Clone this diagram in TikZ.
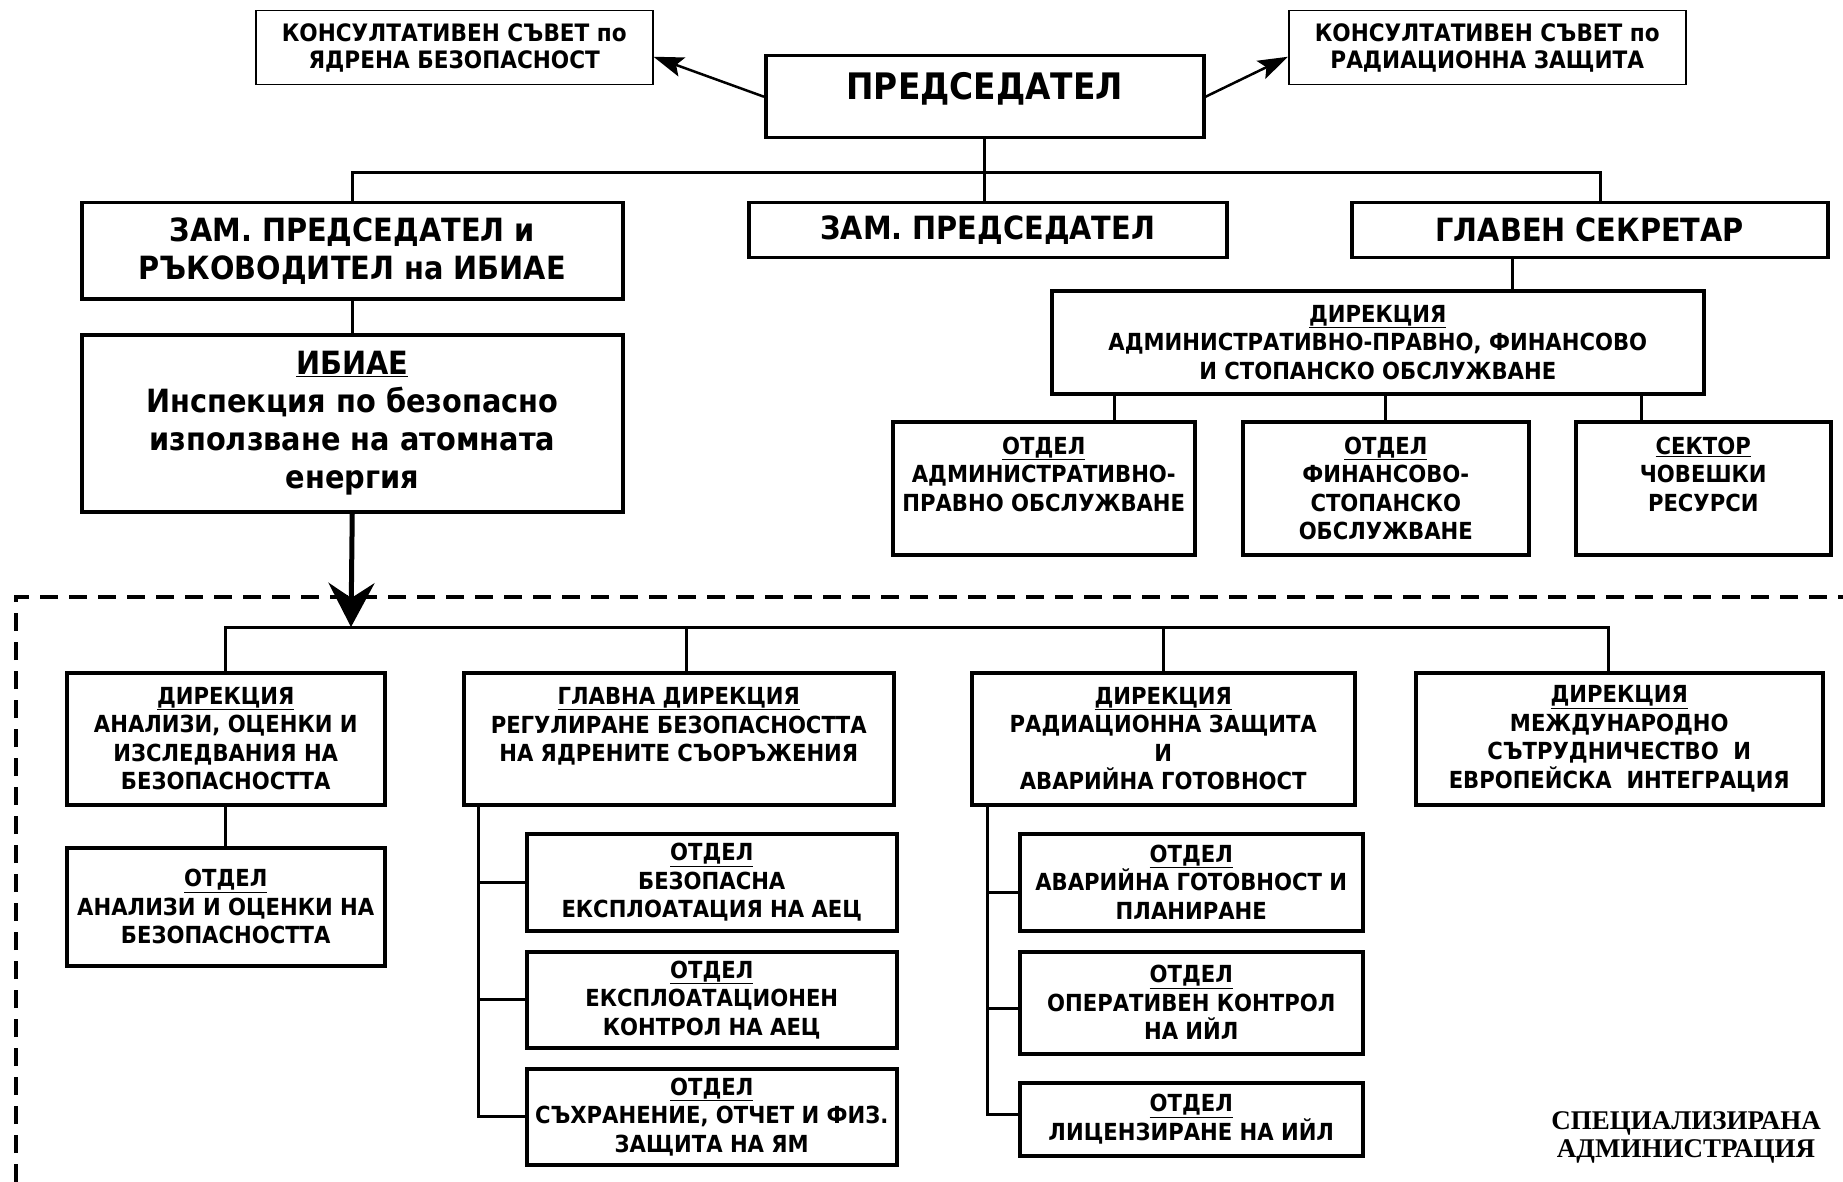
\documentclass[tikz,border=0pt]{standalone}
\usepackage{fontspec}
\setmainfont{DejaVu Sans}[FakeStretch = 0.9]
\newfontfamily\specfont{Liberation Serif}
\usetikzlibrary{arrows.meta}
\tikzset{
    box/.style = {
        draw,
        line width = 3.5pt,
        inner sep = 0pt,
        align = center,
        anchor = north west
    },
    thinbox/.style = {box, line width = 1.5pt},
    conn/.style = {line width = 3pt},
    pointer/.style = {
        line width = 2.5pt,
        -{Stealth[length = 30pt, width = 20pt, inset = 6pt]}
    },
    bigpointer/.style = {
        line width = 5pt,
        -{Stealth[length = 44pt, width = 46pt, inset = 15pt]}
    },
    frame/.style = {line width = 3.5pt, dash pattern = on 18pt off 11pt},
    kctext/.style = {font = \fontsize{24}{27}\selectfont\bfseries},
    titletext/.style = {font = \fontsize{36.5}{40}\selectfont\bfseries},
    bigtext/.style = {font = \fontsize{32}{38}\selectfont\bfseries},
    unittext/.style = {font = \fontsize{23.5}{28.5}\selectfont\bfseries}
}

\begin{document}
\begin{tikzpicture}[x = 1pt, y = -1pt]
    \useasboundingbox (0, 0) rectangle (1843, 1182);

    % Chairman and councils
    \node
        [box, titletext, text depth = 22pt, minimum width = 438pt, minimum height = 82pt]
        (pred) at (764, 54)
        {ПРЕДСЕДАТЕЛ}
    ;
    \node
        [thinbox, kctext, minimum width = 397pt, minimum height = 74pt]
        (ksyb) at (255, 10)
        {КОНСУЛТАТИВЕН СЪВЕТ по\\ЯДРЕНА БЕЗОПАСНОСТ}
    ;
    \node
        [thinbox, kctext, minimum width = 397pt, minimum height = 74pt]
        (ksrz) at (1288, 10)
        {КОНСУЛТАТИВЕН СЪВЕТ по\\РАДИАЦИОННА ЗАЩИТА}
    ;

    % Deputies and secretary
    \node
        [box, bigtext, minimum width = 541pt, minimum height = 96pt]
        (zam1) at (80, 201)
        {ЗАМ. ПРЕДСЕДАТЕЛ и\\РЪКОВОДИТЕЛ на ИБИАЕ}
    ;
    \node
        [box, bigtext, minimum width = 478pt, minimum height = 55pt]
        (zam2) at (747, 201)
        {ЗАМ. ПРЕДСЕДАТЕЛ}
    ;
    \node
        [box, bigtext, minimum width = 476pt, minimum height = 55pt]
        (sec) at (1350, 201)
        {ГЛАВЕН СЕКРЕТАР}
    ;
    \node
        [box, bigtext, minimum width = 541pt, minimum height = 177pt]
        (ibiae) at (80, 333)
        {\underline{ИБИАЕ}\\Инспекция по безопасно\\използване на атомната\\енергия}
    ;

    % General administration
    \node
        [box, unittext, minimum width = 652pt, minimum height = 103pt]
        (dir) at (1050, 289)
        {\underline{ДИРЕКЦИЯ}\\АДМИНИСТРАТИВНО-ПРАВНО, ФИНАНСОВО\\И СТОПАНСКО ОБСЛУЖВАНЕ}
    ;
    \node
        [box, unittext, minimum width = 302pt, minimum height = 133pt]
        (o1) at (891, 420)
        {\underline{ОТДЕЛ}\\АДМИНИСТРАТИВНО-\\ПРАВНО ОБСЛУЖВАНЕ\\ \mbox{}}
    ;
    \node
        [box, unittext, minimum width = 286pt, minimum height = 133pt]
        (o2) at (1241, 420)
        {\underline{ОТДЕЛ}\\ФИНАНСОВО-\\СТОПАНСКО\\ОБСЛУЖВАНЕ}
    ;
    \node
        [box, unittext, minimum width = 255pt, minimum height = 133pt]
        (s3) at (1574, 420)
        {\underline{СЕКТОР}\\ЧОВЕШКИ\\РЕСУРСИ\\ \mbox{}}
    ;

    % Specialised administration
    \node
        [box, unittext, minimum width = 318pt, minimum height = 132pt]
        (d1) at (65, 671)
        {\underline{ДИРЕКЦИЯ}\\АНАЛИЗИ, ОЦЕНКИ И\\ИЗСЛЕДВАНИЯ НА\\БЕЗОПАСНОСТТА}
    ;
    \node
        [box, unittext, minimum width = 318pt, minimum height = 118pt]
        (o11) at (65, 846)
        {\underline{ОТДЕЛ}\\АНАЛИЗИ И ОЦЕНКИ НА\\БЕЗОПАСНОСТТА}
    ;
    \node
        [box, unittext, minimum width = 430pt, minimum height = 132pt]
        (gd) at (462, 671)
        {\underline{ГЛАВНА ДИРЕКЦИЯ}\\РЕГУЛИРАНЕ БЕЗОПАСНОСТТА\\НА ЯДРЕНИТЕ СЪОРЪЖЕНИЯ\\ \mbox{}}
    ;
    \node
        [box, unittext, minimum width = 370pt, minimum height = 97pt]
        (g1) at (525, 832)
        {\underline{ОТДЕЛ}\\БЕЗОПАСНА\\ЕКСПЛОАТАЦИЯ НА АЕЦ}
    ;
    \node
        [box, unittext, minimum width = 370pt, minimum height = 96pt]
        (g2) at (525, 950)
        {\underline{ОТДЕЛ}\\ЕКСПЛОАТАЦИОНЕН\\КОНТРОЛ НА АЕЦ}
    ;
    \node
        [box, unittext, minimum width = 370pt, minimum height = 96pt]
        (g3) at (525, 1067)
        {\underline{ОТДЕЛ}\\СЪХРАНЕНИЕ, ОТЧЕТ И ФИЗ.\\ЗАЩИТА НА ЯМ}
    ;
    \node
        [box, unittext, minimum width = 383pt, minimum height = 132pt]
        (d3) at (970, 671)
        {\underline{ДИРЕКЦИЯ}\\РАДИАЦИОННА ЗАЩИТА\\И\\АВАРИЙНА ГОТОВНОСТ}
    ;
    \node
        [box, unittext, minimum width = 343pt, minimum height = 97pt]
        (r1) at (1018, 832)
        {\underline{ОТДЕЛ}\\АВАРИЙНА ГОТОВНОСТ И\\ПЛАНИРАНЕ}
    ;
    \node
        [box, unittext, minimum width = 343pt, minimum height = 102pt]
        (r2) at (1018, 950)
        {\underline{ОТДЕЛ}\\ОПЕРАТИВЕН КОНТРОЛ\\НА ИЙЛ}
    ;
    \node
        [box, unittext, minimum width = 343pt, minimum height = 73pt]
        (r3) at (1018, 1081)
        {\underline{ОТДЕЛ}\\ЛИЦЕНЗИРАНЕ НА ИЙЛ}
    ;
    \node
        [box, unittext, minimum width = 407pt, minimum height = 132pt]
        (d4) at (1414, 671)
        {\underline{ДИРЕКЦИЯ}\\МЕЖДУНАРОДНО\\СЪТРУДНИЧЕСТВО~ И\\ЕВРОПЕЙСКА~ ИНТЕГРАЦИЯ}
    ;
    \node
        [align = center, font = \specfont\fontsize{27}{28}\selectfont\bfseries]
        (spec) at (1686, 1137)
        {СПЕЦИАЛИЗИРАНА\\АДМИНИСТРАЦИЯ}
    ;

    % Frame
    \draw
        [frame]
        (16, 1182) |- (1843, 597)
    ;

    % Lines
    \draw [pointer] (pred.west) -- ([yshift = -9pt]ksyb.east);
    \draw [pointer] (pred.east) -- ([yshift = -9pt]ksrz.west);
    \draw [conn] (pred.south) -- (pred.south |- zam2.north);
    \draw
        [conn]
        (zam1.north) -- ++(0, -28) -| ([xshift = 11pt]sec.north)
    ;
    \draw [conn] (zam1.south) -- (ibiae.north);
    \draw
        [conn]
        ([xshift = -77pt]sec.south) -- ([xshift = -77pt]sec.south |- dir.north)
    ;
    \draw [conn] ([xshift = 71pt]o1.north) -- ([xshift = 71pt]o1.north |- dir.south);
    \draw [conn] (o2.north) -- (o2.north |- dir.south);
    \draw [conn] ([xshift = -62pt]s3.north) -- ([xshift = -62pt]s3.north |- dir.south);

    \coordinate (hub) at (351, 627);
    \draw
        [conn]
        (d1.north) |- ([xshift = -11pt]d4.north |- hub) -- ([xshift = -11pt]d4.north)
    ;
    \draw [conn] ([xshift = 8pt]gd.north) -- ++(0, -44);
    \draw [conn] (d3.north) -- ++(0, -44);
    \draw [conn] (d1.south) -- (o11.north);

    \draw [conn] ([xshift = 16pt]gd.south west) |- (g3.west);
    \draw [conn] (g1.west) -- ++(-47, 0);
    \draw [conn] (g2.west) -- ++(-47, 0);

    \draw [conn] ([xshift = 17pt]d3.south west) |- ([yshift = 5pt]r3.west);
    \draw [conn] ([yshift = -10pt]r1.west) -- ++(-31, 0);
    \draw [conn] ([yshift = -6pt]r2.west) -- ++(-31, 0);

    \draw [bigpointer] (ibiae.south) -- (hub);

\end{tikzpicture}
\end{document}
